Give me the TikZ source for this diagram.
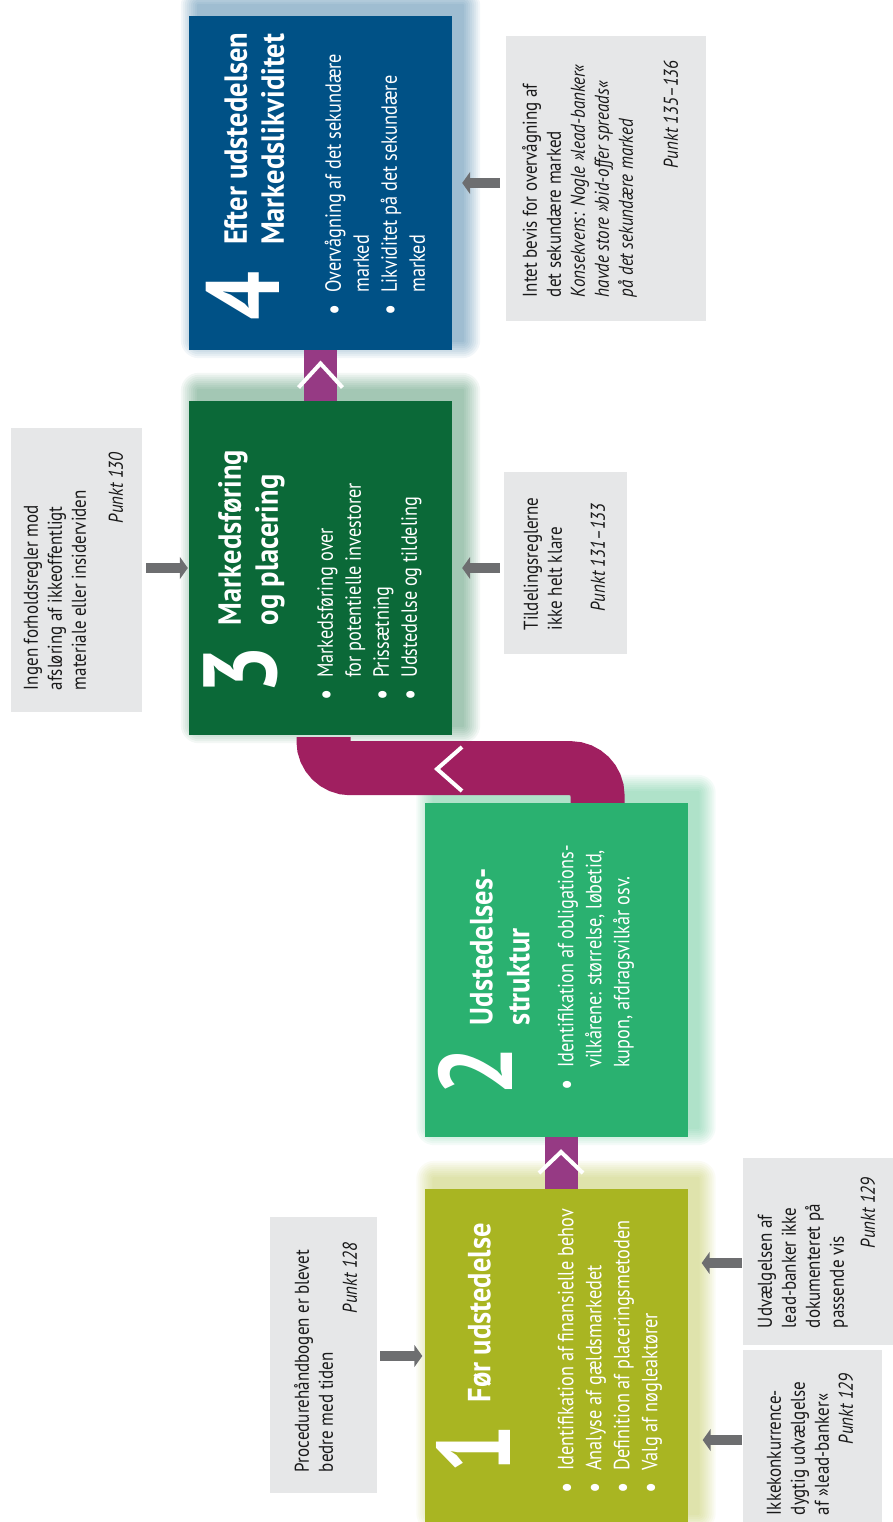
\documentclass[tikz,border=0pt]{standalone}
\usepackage{fontspec}
\usetikzlibrary{arrows.meta,backgrounds}
\newfontfamily\condfont{PT Sans}[FakeStretch=0.83]
\newfontfamily\headfont{PT Sans}[FakeStretch=0.89]
\newfontfamily\notefont{PT Sans}[FakeStretch=0.85]

\definecolor{stageblue}{RGB}{0,81,134}
\definecolor{stagedark}{RGB}{11,105,56}
\definecolor{stagegreen}{RGB}{42,177,112}
\definecolor{stageolive}{RGB}{169,181,34}
\definecolor{notegray}{RGB}{230,231,232}
\definecolor{arrowgray}{RGB}{109,110,112}
\definecolor{linkpurple}{RGB}{150,58,132}
\definecolor{bandred}{RGB}{160,31,96}

\newcommand\rows[1]{\begin{tabular}[t]{@{}l@{}}#1\end{tabular}}
\newcommand\items[1]{\begin{tabular}[t]{@{}l@{\hspace{11pt}}l@{}}#1\end{tabular}}
\newcommand\bul{\raisebox{-3pt}{\fontsize{30}{28}\selectfont\textbullet}}

\begin{document}
\begin{tikzpicture}[x=1pt,y=-1pt,
  stage/.style={minimum width=263pt,minimum height=334pt,inner sep=0},
  note/.style={fill=notegray,inner sep=0},
  digit/.style={anchor=base west,inner sep=0,text=white,font=\condfont\bfseries\fontsize{104}{104}\selectfont},
  heading/.style={anchor=base west,inner sep=0,text=white,font=\headfont\bfseries\fontsize{32}{37}\selectfont},
  bullets/.style={anchor=base west,inner sep=0,text=white,font=\condfont\fontsize{22}{28}\selectfont},
  remark/.style={anchor=base west,inner sep=0,text=black!90,font=\notefont\fontsize{20}{24}\selectfont},
  punkt/.style={anchor=base east,inner sep=0,text=black!90,font=\notefont\itshape\fontsize{20}{24}\selectfont},
  feed/.style={arrowgray,line width=10pt,-{Triangle[length=8pt,width=22pt]}},
  link/.style={linkpurple,line width=33pt},
  chevron/.style={white,line width=4pt},
  rot/.style={shift={#1},rotate=90,transform shape}]
\useasboundingbox (0,0) rectangle (893,1522);

% the four stages
\node[stage,fill=stageblue] (b4) at (320.5,183) {};
\node[stage,fill=stagedark] (b3) at (320.5,568) {};
\node[stage,fill=stagegreen] (b2) at (556,970) {};
\node[stage,fill=stageolive] (b1) at (556,1356) {};

\begin{scope}[on background layer]
\foreach \b/\c in {b4/stageblue,b3/stagedark,b2/stagegreen,b1/stageolive}
  \foreach \r in {2,4,...,18}
    \fill[\c,fill opacity=0.05,rounded corners=\r pt]
      ([shift={(10-\r,-10+\r)}]\b.south west) rectangle ([shift={(10+\r,-10-\r)}]\b.north east);
\end{scope}

% links between the stages
\draw[link] (b4.south) -- (b3.north);
\draw[link] ([xshift=5pt]b1.north) -- ([xshift=5pt]b2.south);
\draw[bandred,line width=54pt,rounded corners=27pt]
  ([xshift=3pt,yshift=-2pt]b3.south) -- ++(0,31) -| ([xshift=41.5pt]b2.north);

\path (b4.south) -- (b3.north) coordinate[midway] (m43);
\path ([xshift=5pt]b1.north) -- ([xshift=5pt]b2.south) coordinate[midway] (m12);
\coordinate (m32) at (450,769);
\draw[chevron] ([shift={(-22,12)}]m43) -- ([shift={(0,-12)}]m43) -- ([shift={(22,12)}]m43);
\draw[chevron] ([shift={(-22,10)}]m12) -- ([shift={(0,-11)}]m12) -- ([shift={(22,10)}]m12);
\draw[chevron] ([shift={(12,-22)}]m32) -- ([shift={(-13,0)}]m32) -- ([shift={(12,22)}]m32);

% stage texts
\begin{scope}[rot={(b4.south west)}]
  \node[digit] at (30,91) {4};
  \node[heading] at (105,58) {\rows{Efter udstedelsen\\Markedslikviditet}};
  \node[bullets] at (35,152) {\items{\bul & Overvågning af det sekundære\\ & marked\\ \bul & Likviditet på det sekundære\\ & marked}};
\end{scope}
\begin{scope}[rot={(b3.south west)}]
  \node[digit] at (41,88) {3};
  \node[heading] at (110,52) {\rows{Markedsføring\\og placering}};
  \node[bullets] at (35,144) {\items{\bul & Markedsføring over\\ & for potentielle investorer\\ \bul & Prissætning\\ \bul & Udstedelse og tildeling}};
\end{scope}
\begin{scope}[rot={(b2.south west)}]
  \node[digit] at (42,88) {2};
  \node[heading] at (112,68) {\rows{Udstedelses-\\struktur}};
  \node[bullets] at (47,149) {\items{\bul & Identifikation af obligations-\\ & vilkårene: størrelse, løbetid,\\ & kupon, afdragsvilkår osv.}};
\end{scope}
\begin{scope}[rot={(b1.south west)}]
  \node[digit] at (50,86) {1};
  \node[heading] at (121,66) {Før udstedelse};
  \node[bullets] at (30,149) {\items{\bul & Identifikation af finansielle behov\\ \bul & Analyse af gældsmarkedet\\ \bul & Definition af placeringsmetoden\\ \bul & Valg af nøgleaktører}};
\end{scope}

% remarks
\node[note,minimum width=200pt,minimum height=285pt] (nA) at (606,178.5) {};
\node[note,minimum width=131pt,minimum height=284pt] (nB) at (76.5,570) {};
\node[note,minimum width=123pt,minimum height=182pt] (nC) at (565.5,563) {};
\node[note,minimum width=107pt,minimum height=276pt] (nD) at (323.5,1355) {};
\node[note,minimum width=150pt,minimum height=187pt] (nE) at (818,1251.5) {};
\node[note,minimum width=139pt,minimum height=180pt] (nF) at (812.5,1440) {};

\begin{scope}[rot={(nA.south west)}]
  \node[remark] at (24,31) {\rows{Intet bevis for overvågning af\\det sekundære marked\\\itshape Konsekvens: Nogle »lead-banker«\\\itshape havde store »bid-offer spreads«\\\itshape på det sekundære marked}};
  \node[punkt] at (261,172) {Punkt 135–136};
\end{scope}
\begin{scope}[rot={(nB.south west)}]
  \node[remark] at (22,27) {\rows{Ingen forholdsregler mod\\afsløring af ikkeoffentligt\\materiale eller insiderviden}};
  \node[punkt] at (260,112) {Punkt 130};
\end{scope}
\begin{scope}[rot={(nC.south west)}]
  \node[remark] at (24,34) {\rows{Tildelingsreglerne\\ikke helt klare}};
  \node[punkt] at (151,101) {Punkt 131–133};
\end{scope}
\begin{scope}[rot={(nD.south west)}]
  \node[remark] at (21,39) {\rows{Procedurehåndbogen er blevet\\bedre med tiden}};
  \node[punkt] at (251,87) {Punkt 128};
\end{scope}
\begin{scope}[rot={(nE.south west)}]
  \node[remark] at (17,29) {\rows{Udvælgelsen af\\lead-banker ikke\\dokumenteret på\\passende vis}};
  \node[punkt] at (168,132) {Punkt 129};
\end{scope}
\begin{scope}[rot={(nF.south west)}]
  \node[remark] at (15,38) {\rows{Ikkekonkurrence-\\dygtig udvælgelse\\af »lead-banker«}};
  \node[punkt] at (157,110) {Punkt 129};
\end{scope}

% remarks pointing at the stages
\coordinate (eE) at ([yshift=-11.5pt]nE.west);
\draw[feed,shorten <=6pt,shorten >=10pt] (nA.west |- b4.east) -- (b4.east);
\draw[feed,shorten <=4pt,shorten >=1pt] (nB.east |- b3.west) -- (b3.west);
\draw[feed,shorten <=4pt,shorten >=10pt] (nC.west |- b3.east) -- (b3.east);
\draw[feed,shorten <=3pt,shorten >=2pt] (nD.east |- b1.west) -- (b1.west);
\draw[feed,shorten <=1pt,shorten >=14pt] (eE) -- (eE -| b1.east);
\draw[feed,shorten <=1pt,shorten >=15pt] (nF.west) -- (nF.west -| b1.east);
\end{tikzpicture}
\end{document}
